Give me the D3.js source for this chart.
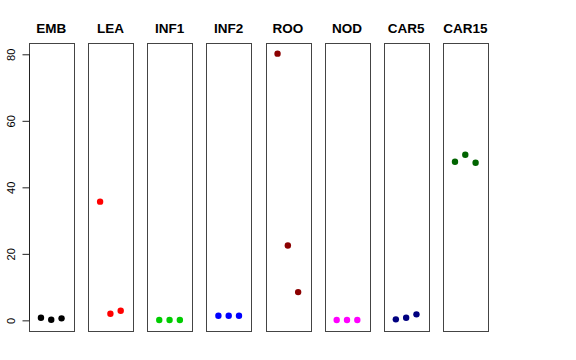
<!DOCTYPE html>
<html><head><meta charset="utf-8">
<script src="https://cdn.jsdelivr.net/npm/d3@7"></script>
<style>body{margin:0;background:#fff}svg{display:block}</style>
</head><body>
<script>
const categories = ["EMB","LEA","INF1","INF2","ROO","NOD","CAR5","CAR15"];
const colors = ["#000000","#FF0000","#00CD00","#0000FF","#8B0000","#FF00FF","#000080","#006400"];
const valuesEMB = [0.8, 0.2, 0.6];
const valuesLEA = [35.7, 2.0, 2.9];
const valuesINF1 = [0.1, 0.1, 0.1];
const valuesINF2 = [1.4, 1.4, 1.4];
const valuesROO = [80.2, 22.5, 8.5];
const valuesNOD = [0.1, 0.1, 0.1];
const valuesCAR5 = [0.3, 0.8, 1.8];
const valuesCAR15 = [47.7, 49.8, 47.4];
const series = [valuesEMB, valuesLEA, valuesINF1, valuesINF2, valuesROO, valuesNOD, valuesCAR5, valuesCAR15];
const yTicks = [0, 20, 40, 60, 80];

const W = 576, H = 360;
const svg = d3.select("body").append("svg").attr("width", W).attr("height", H);

const plotTop = 43, plotBottom = 331, panelW = 44.5, pitch = 59.15, left0 = 29;
const y = d3.scaleLinear().domain([-3.2, 83.4]).range([plotBottom, plotTop]);

series.forEach((vals, i) => {
  const x0 = left0 + i * pitch;
  const x = d3.scaleLinear().domain([-0.16, 4.16]).range([x0, x0 + panelW]);
  const g = svg.append("g");
  g.selectAll("circle").data(vals).join("circle")
    .attr("cx", (d, j) => x(j + 1))
    .attr("cy", d => y(d))
    .attr("r", 3.2)
    .attr("fill", colors[i]);
  g.append("rect")
    .attr("x", Math.round(x0) + 0.5).attr("y", plotTop + 0.5)
    .attr("width", Math.round(panelW)).attr("height", plotBottom - plotTop)
    .attr("fill", "none").attr("stroke", "#444").attr("stroke-width", 1);
  g.append("text")
    .attr("x", x0 + panelW / 2).attr("y", 33)
    .attr("text-anchor", "middle")
    .attr("font-family", "Liberation Sans, Arial, sans-serif")
    .attr("font-weight", "bold").attr("font-size", 13.5)
    .text(categories[i]);
});

const axis = d3.axisLeft(y).tickValues(yTicks).tickSize(7).tickFormat(d3.format("d"));
const ag = svg.append("g").attr("transform", `translate(${left0 + 0.5},0)`).call(axis);
ag.select(".domain").attr("d", `M0,${y(0)}V${y(80)}`).attr("stroke", "#222");
ag.selectAll(".tick line").attr("stroke", "#222");
ag.selectAll(".tick text")
  .attr("font-family", "Liberation Sans, Arial, sans-serif").attr("font-size", 11).attr("fill", "#000")
  .attr("transform", "translate(-18,0) rotate(-90)")
  .attr("x", 0).attr("y", 0).attr("dy", "0.35em").attr("text-anchor", "middle");
</script>
</body></html>
